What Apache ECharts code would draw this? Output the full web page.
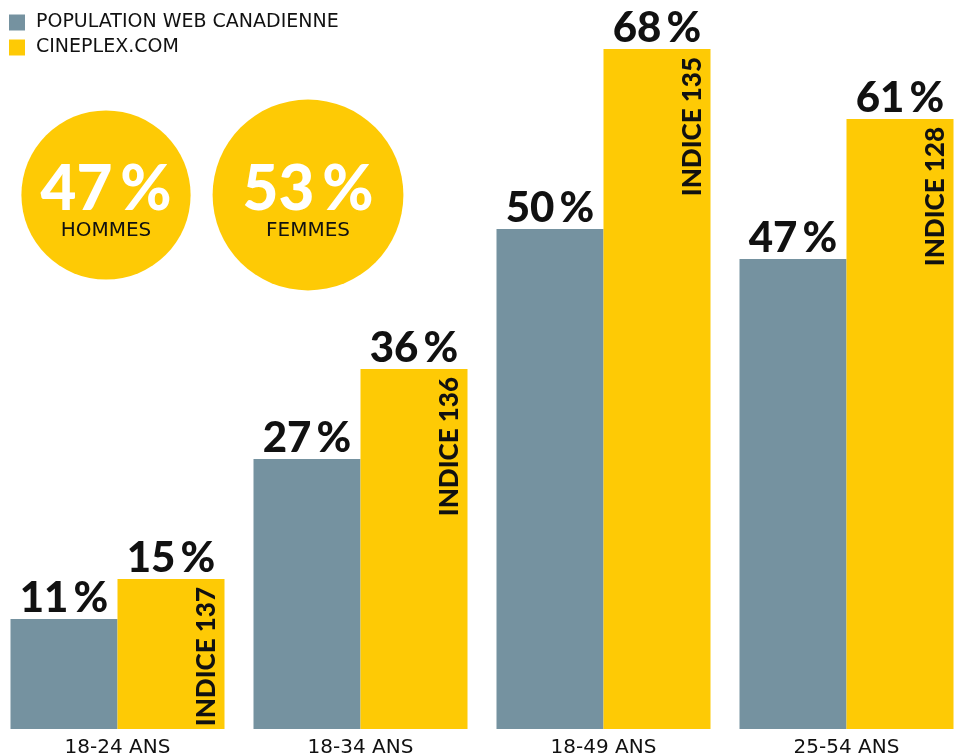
<!DOCTYPE html>
<html>
<head>
<meta charset="utf-8">
<script src="https://cdn.jsdelivr.net/npm/echarts@6/dist/echarts.min.js"></script>
<style>
  html, body { margin: 0; padding: 0; background: #ffffff; }
  #chart { width: 961px; height: 755px; }
</style>
</head>
<body>
<div id="chart"></div>
<script>
// Age groups and audience shares (%)
const categories = ['18-24 ANS', '18-34 ANS', '18-49 ANS', '25-54 ANS'];
const webPopulation = [11, 27, 50, 47];
const cineplexAudience = [15, 36, 68, 61];
const indexValues = [137, 136, 135, 128];

// Gender split of the audience
const genderNames = ['HOMMES', 'FEMMES'];
const genderShares = [47, 53];

const seriesNames = ['POPULATION WEB CANADIENNE', 'CINEPLEX.COM'];

const GREY = '#7592A0';
const YELLOW = '#FECA05';
const INK = '#111111';
const HEAVY = 'Lato';
const BODY = 'DejaVu Sans';
const THIN = '\u2009';

const valueLabel = {
  show: true,
  position: 'top',
  distance: 0,
  formatter: p => p.value + THIN + '%',
  color: INK,
  fontFamily: HEAVY,
  fontWeight: 900,
  fontSize: 42
};

const chart = echarts.init(document.getElementById('chart'), null, { renderer: 'canvas' });

chart.setOption({
  animation: false,
  backgroundColor: '#ffffff',
  legend: {
    data: seriesNames,
    orient: 'vertical',
    left: 9,
    top: 13,
    padding: 0,
    itemWidth: 16,
    itemHeight: 16,
    itemGap: 6,
    icon: 'rect',
    textStyle: { color: INK, fontFamily: BODY, fontWeight: 'normal', fontSize: 19, padding: [0, 0, 0, 6] }
  },
  grid: [
    { left: -4, width: 972, top: 29, bottom: 26, outerBoundsMode: 'none' },
    { left: 5, width: 404, top: 95, height: 200, outerBoundsMode: 'none' }
  ],
  xAxis: [
    {
      type: 'category', gridIndex: 0, data: categories,
      axisLine: { show: false }, axisTick: { show: false },
      axisLabel: { color: INK, fontFamily: BODY, fontSize: 20, margin: 9 }
    },
    { type: 'category', gridIndex: 0, data: categories, show: false },
    { type: 'category', gridIndex: 1, data: genderNames, show: false }
  ],
  yAxis: [
    { type: 'value', gridIndex: 0, min: 0, max: 70, show: false },
    { type: 'value', gridIndex: 0, min: 0, max: 70, show: false },
    { type: 'category', gridIndex: 1, data: ['genre'], show: false }
  ],
  series: [
    {
      name: seriesNames[0], type: 'bar', xAxisIndex: 0, yAxisIndex: 0,
      data: webPopulation, barWidth: 107, barGap: 0,
      itemStyle: { color: GREY }, label: valueLabel
    },
    {
      name: seriesNames[1], type: 'bar', xAxisIndex: 0, yAxisIndex: 0,
      data: cineplexAudience, barWidth: 107, barGap: 0,
      itemStyle: { color: YELLOW }, label: valueLabel
    },
    // Second layer: empty slot, then a clear bar over the yellow one carrying the index text
    {
      name: 'slot', type: 'bar', xAxisIndex: 1, yAxisIndex: 1,
      data: webPopulation.map(() => null), barWidth: 107, barGap: 0, silent: true
    },
    {
      name: 'indice', type: 'bar', xAxisIndex: 1, yAxisIndex: 1,
      data: cineplexAudience, barWidth: 107, barGap: 0, silent: true,
      itemStyle: { color: 'rgba(0,0,0,0)' },
      label: {
        show: true,
        position: [89, 8],
        rotate: 90,
        align: 'right',
        verticalAlign: 'middle',
        formatter: p => 'INDICE ' + indexValues[p.dataIndex],
        color: INK,
        fontFamily: HEAVY,
        fontWeight: 900,
        fontSize: 26
      }
    },
    {
      name: 'genre', type: 'scatter', xAxisIndex: 2, yAxisIndex: 2,
      data: genderNames.map((n, i) => [n, 'genre', genderShares[i]]),
      symbol: 'circle',
      symbolSize: v => v[2] * 3.6,
      itemStyle: { color: YELLOW, opacity: 1 },
      silent: true,
      label: {
        show: true,
        position: 'inside',
        offset: [0, 7],
        formatter: p => '{v|' + p.value[2] + THIN + '%}\n{n|' + p.value[0] + '}',
        rich: {
          v: { color: '#ffffff', fontFamily: HEAVY, fontWeight: 900, fontSize: 62, lineHeight: 58 },
          n: { color: INK, fontFamily: BODY, fontSize: 20, lineHeight: 24 }
        }
      }
    }
  ]
});
</script>
</body>
</html>
